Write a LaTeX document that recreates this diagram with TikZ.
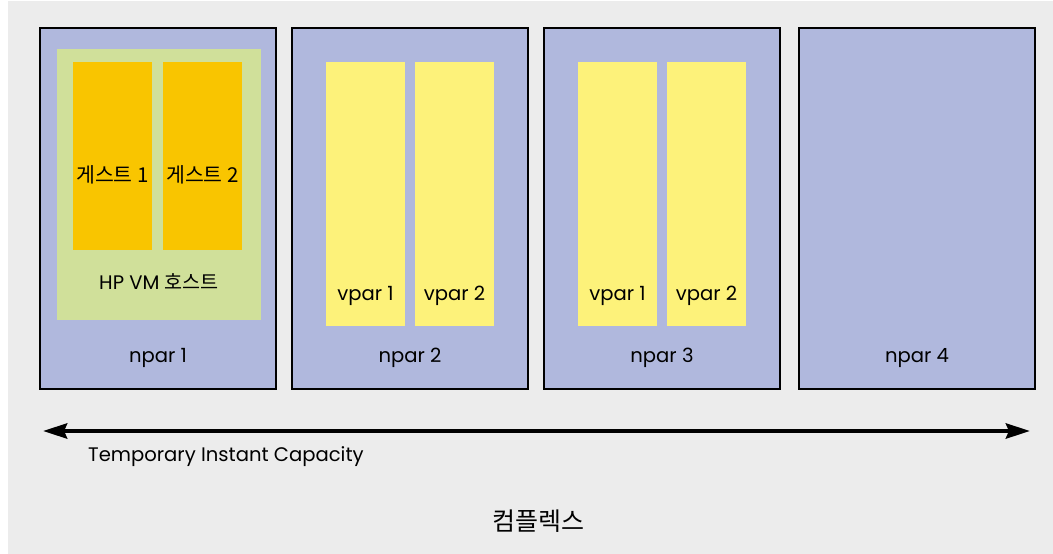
\documentclass[tikz,border=0pt]{standalone}
\usepackage{fontspec}
\setmainfont{Poppins}
\newfontfamily\kr{Noto Sans CJK KR}
\usetikzlibrary{arrows.meta}
\definecolor{bggray}{HTML}{ECECEC}
\definecolor{nparblue}{HTML}{B0B8DD}
\definecolor{hostgreen}{HTML}{D0E09A}
\definecolor{guestorange}{HTML}{F9C500}
\definecolor{vparyellow}{HTML}{FDF27A}
\tikzset{
  box/.style={anchor=north west, inner sep=0pt, outer sep=0pt},
  nparbox/.style={box, fill=nparblue, draw=black, line width=2.2pt,
    minimum width=236pt, minimum height=361pt},
  hostbox/.style={box, fill=hostgreen, minimum width=204pt, minimum height=271pt},
  guestbox/.style={box, fill=guestorange, minimum width=79pt, minimum height=188pt},
  vparbox/.style={box, fill=vparyellow, minimum width=79pt, minimum height=264pt},
  lbl/.style={inner sep=0pt, font=\fontsize{19.6}{22}\selectfont},
  krlbl/.style={inner sep=0pt, font=\kr\fontsize{20.5}{23}\selectfont},
  span/.style={{Stealth[length=24pt,width=15pt,inset=3pt]}-{Stealth[length=24pt,width=15pt,inset=3pt]},
    line width=4.5pt}
}
\begin{document}
\begin{tikzpicture}[x=1pt,y=-1pt]
\useasboundingbox (0,0) rectangle (1053,554);
\fill[bggray] (8,1) rectangle (1053,554);

% four nPartitions
\node[nparbox] (n1) at (40,28) {};
\node[nparbox] (n2) at (292,28) {};
\node[nparbox] (n3) at (544,28) {};
\node[nparbox] (n4) at (799,28) {};

% npar 1: VM host with two guests
\node[hostbox] (host) at (57,49) {};
\node[guestbox] (g1) at (73,62) {};
\node[guestbox] (g2) at (163,62) {};
\node[krlbl] at (112.5,175) {게스트 1};
\node[krlbl] at (202.5,175) {게스트 2};
\node[lbl] at (159,282) {HP VM {\kr 호스트}};

% npar 2 and npar 3: virtual partitions
\node[vparbox] (v21) at (326,62) {};
\node[vparbox] (v22) at (415,62) {};
\node[vparbox] (v31) at (578,62) {};
\node[vparbox] (v32) at (667,62) {};
\foreach \v/\t in {v21/vpar 1, v22/vpar 2, v31/vpar 1, v32/vpar 2}
  \node[lbl] at ([yshift=30pt]\v.south) {\t};

% nPartition labels
\foreach \n/\t in {n1/npar 1, n2/npar 2, n3/npar 3, n4/npar 4}
  \node[lbl] at ([yshift=31pt]\n.south) {\t};

% iCAP span across the complex
\coordinate (aL) at (43,431);
\coordinate (aR) at (1030,431);
\draw[span] (aL) -- (aR);
\node[lbl, anchor=west] (ticap) at (88,457) {Temporary Instant Capacity};

% complex label
\node[krlbl, font=\kr\fontsize{25}{28}\selectfont] (cx) at (538,521) {컴플렉스};
\end{tikzpicture}
\end{document}
